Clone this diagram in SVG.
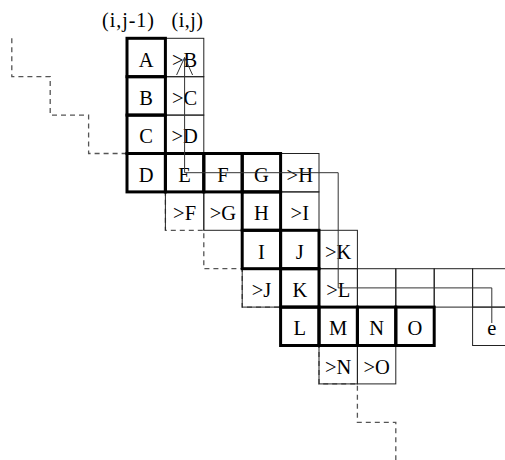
<svg xmlns="http://www.w3.org/2000/svg" width="505" height="460" viewBox="0 0 505 460">
<defs>
<style>
.t{font-family:"Liberation Serif","Times New Roman",serif;font-size:20.5px;fill:#000;text-anchor:middle}
.h{font-family:"Liberation Serif","Times New Roman",serif;font-size:20px;fill:#000}
.k{fill:none;stroke:#000;stroke-width:3}
.n{fill:none;stroke:#222;stroke-width:1}
.d{fill:none;stroke:#555;stroke-width:1.3;stroke-dasharray:5,4}
.c{fill:none;stroke:#333;stroke-width:1}
</style>
<marker id="ah" markerUnits="userSpaceOnUse" markerWidth="20" markerHeight="20" refX="18" refY="9" orient="auto" viewBox="0 0 20 18">
<path d="M0.5,1 L18,9 L0.5,17" fill="none" stroke="#333" stroke-width="1"/>
</marker>
</defs>
<rect width="505" height="460" fill="#fff"/>
<g id="labels">
<text class="h" x="102" y="26.5" textLength="52" lengthAdjust="spacing">(i,j-1)</text>
<text class="h" x="171.5" y="26.5" textLength="31.5" lengthAdjust="spacing">(i,j)</text>
</g>
<g id="boundary">
<path class="d" d="M11.8,38.3 V76.7 H50.2 V115.1 H88.6 V153.5 H127 V191.9 H165.4 V230.3 H203.8 V268.7 H242.2 V307.1 H280.6 V345.5 H319 V383.9 H357.4 V422.3 H395.8 V460.7 H434.2"/>
</g>
<g id="thin-cells">
<g id="nB"><rect class="n" x="165.4" y="38.3" width="38.4" height="38.4"/><text class="t" x="184.6" y="66.6">&gt;B</text></g>
<g id="nC"><rect class="n" x="165.4" y="76.7" width="38.4" height="38.4"/><text class="t" x="184.6" y="105">&gt;C</text></g>
<g id="nD"><rect class="n" x="165.4" y="115.1" width="38.4" height="38.4"/><text class="t" x="184.6" y="143.4">&gt;D</text></g>
<g id="nH"><rect class="n" x="280.6" y="153.5" width="38.4" height="38.4"/><text class="t" x="299.8" y="181.8">&gt;H</text></g>
<g id="nF"><path class="n" d="M165.4,230.3 V191.9 H203.8 V230.3"/><text class="t" x="184.6" y="220.2">&gt;F</text></g>
<g id="nG"><rect class="n" x="203.8" y="191.9" width="38.4" height="38.4"/><text class="t" x="223" y="220.2">&gt;G</text></g>
<g id="nI"><rect class="n" x="280.6" y="191.9" width="38.4" height="38.4"/><text class="t" x="299.8" y="220.2">&gt;I</text></g>
<g id="nK"><rect class="n" x="319" y="230.3" width="38.4" height="38.4"/><text class="t" x="338.2" y="258.6">&gt;K</text></g>
<g id="nJ"><rect class="n" x="242.2" y="268.7" width="38.4" height="38.4"/><text class="t" x="261.4" y="297">&gt;J</text></g>
<g id="nL"><rect class="n" x="319" y="268.7" width="38.4" height="38.4"/><text class="t" x="338.2" y="297">&gt;L</text></g>
<g id="row6"><rect class="n" x="357.4" y="268.7" width="38.4" height="38.4"/><rect class="n" x="395.8" y="268.7" width="38.4" height="38.4"/><rect class="n" x="434.2" y="268.7" width="38.4" height="38.4"/><rect class="n" x="472.6" y="268.7" width="38.4" height="38.4"/></g>
<g id="e"><rect class="n" x="472.6" y="307.1" width="38.4" height="38.4"/><text class="t" x="491.8" y="335.4">e</text></g>
<g id="nN"><rect class="n" x="319" y="345.5" width="38.4" height="38.4"/><text class="t" x="338.2" y="373.8">&gt;N</text></g>
<g id="nO"><rect class="n" x="357.4" y="345.5" width="38.4" height="38.4"/><text class="t" x="376.6" y="373.8">&gt;O</text></g>
</g>
<g id="thick-cells">
<g id="A"><rect class="k" x="127" y="38.3" width="38.4" height="38.4"/><text class="t" x="146.2" y="66.6">A</text></g>
<g id="B"><rect class="k" x="127" y="76.7" width="38.4" height="38.4"/><text class="t" x="146.2" y="105">B</text></g>
<g id="C"><rect class="k" x="127" y="115.1" width="38.4" height="38.4"/><text class="t" x="146.2" y="143.4">C</text></g>
<g id="D"><rect class="k" x="127" y="153.5" width="38.4" height="38.4"/><text class="t" x="146.2" y="181.8">D</text></g>
<g id="E"><rect class="k" x="165.4" y="153.5" width="38.4" height="38.4"/><text class="t" x="184.6" y="181.8">E</text></g>
<g id="F"><rect class="k" x="203.8" y="153.5" width="38.4" height="38.4"/><text class="t" x="223" y="181.8">F</text></g>
<g id="G"><rect class="k" x="242.2" y="153.5" width="38.4" height="38.4"/><text class="t" x="261.4" y="181.8">G</text></g>
<g id="H"><rect class="k" x="242.2" y="191.9" width="38.4" height="38.4"/><text class="t" x="261.4" y="220.2">H</text></g>
<g id="I"><rect class="k" x="242.2" y="230.3" width="38.4" height="38.4"/><text class="t" x="261.4" y="258.6">I</text></g>
<g id="J"><rect class="k" x="280.6" y="230.3" width="38.4" height="38.4"/><text class="t" x="299.8" y="258.6">J</text></g>
<g id="K"><rect class="k" x="280.6" y="268.7" width="38.4" height="38.4"/><text class="t" x="299.8" y="297">K</text></g>
<g id="L"><rect class="k" x="280.6" y="307.1" width="38.4" height="38.4"/><text class="t" x="299.8" y="335.4">L</text></g>
<g id="M"><rect class="k" x="319" y="307.1" width="38.4" height="38.4"/><text class="t" x="338.2" y="335.4">M</text></g>
<g id="N"><rect class="k" x="357.4" y="307.1" width="38.4" height="38.4"/><text class="t" x="376.6" y="335.4">N</text></g>
<g id="O"><rect class="k" x="395.8" y="307.1" width="38.4" height="38.4"/><text class="t" x="415" y="335.4">O</text></g>
</g>
<g id="connectors">
<path class="c" d="M491.8,323 V287.9 H338.2 V172.7 H184.6 V57.5" marker-end="url(#ah)"/>
</g>
</svg>
